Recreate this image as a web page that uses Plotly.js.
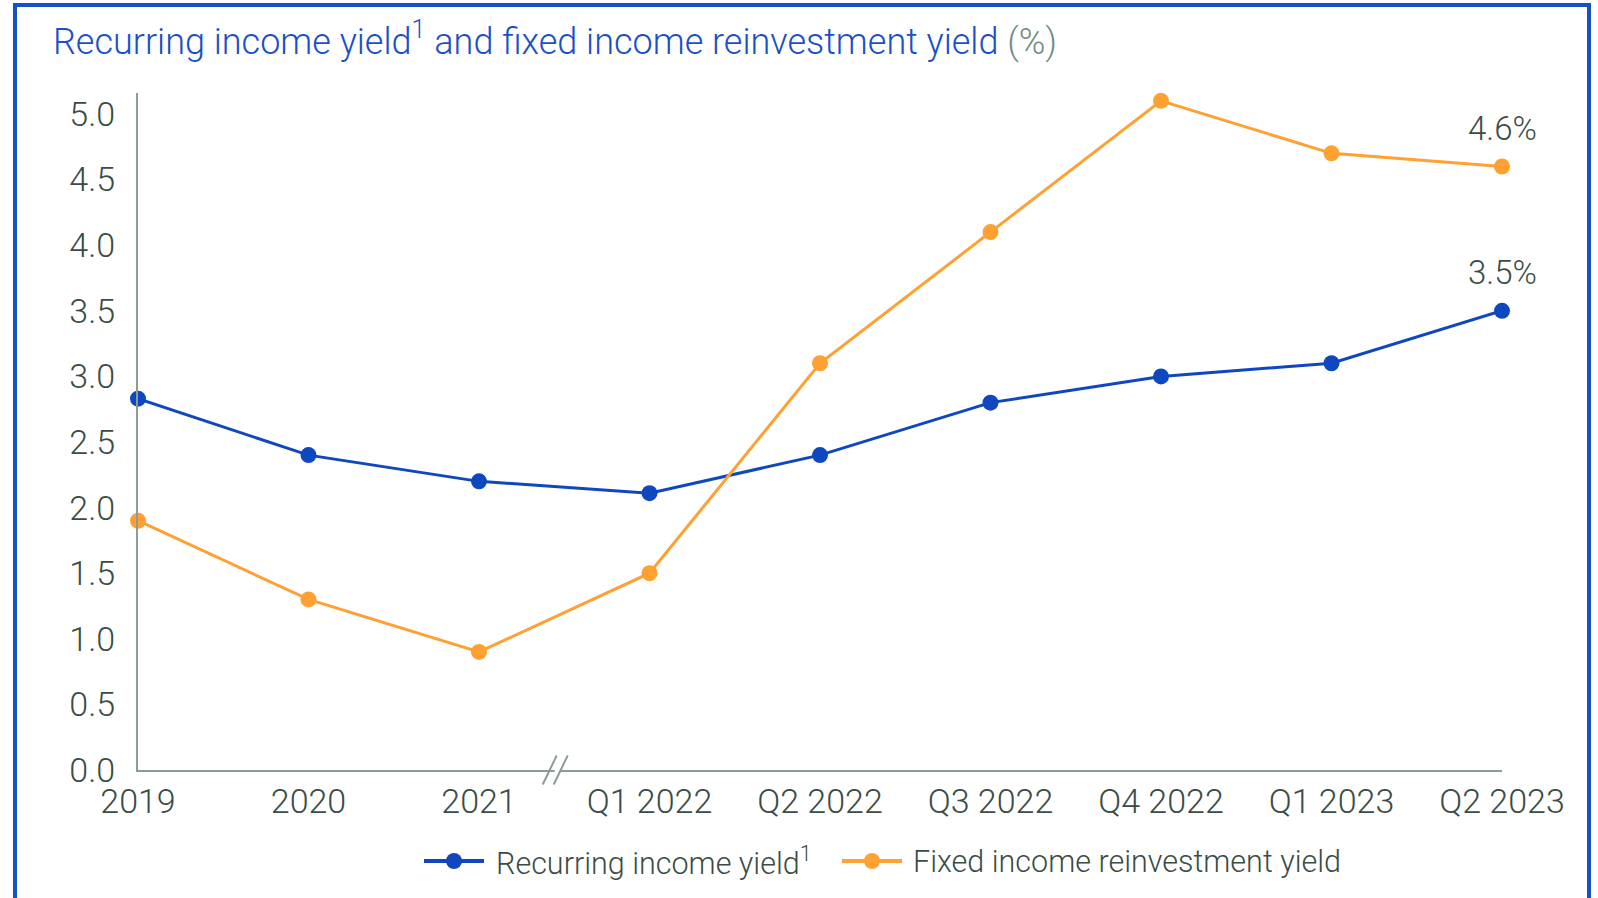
<!DOCTYPE html>
<html>
<head>
<meta charset="utf-8">
<script src="https://cdn.plot.ly/plotly-3.0.1.min.js"></script>
<style>
  html, body { margin:0; padding:0; background:#fff; overflow:hidden; }
  #frame { position:absolute; left:13px; top:3px; width:1570px; height:1000px; border:4px solid #1750c4; pointer-events:none; }
  #chart { position:absolute; left:0; top:0; width:1598px; height:898px; }
</style>
</head>
<body>
<div id="chart"></div>
<div id="frame"></div>
<script>
// ---- data ----
const categories = ["2019", "2020", "2021", "Q1 2022", "Q2 2022", "Q3 2022", "Q4 2022", "Q1 2023", "Q2 2023"];
const recurringIncomeYield = [2.83, 2.4, 2.2, 2.11, 2.4, 2.8, 3.0, 3.1, 3.5];
const fixedIncomeReinvestmentYield = [1.9, 1.3, 0.9, 1.5, 3.1, 4.1, 5.1, 4.7, 4.6];
const yTickValues = [0, 0.5, 1, 1.5, 2, 2.5, 3, 3.5, 4, 4.5, 5];
const yTickLabels = ["0.0", "0.5", "1.0", "1.5", "2.0", "2.5", "3.0", "3.5", "4.0", "4.5", "5.0"];
const seriesNames = ["Recurring income yield<sup>1</sup>", "Fixed income reinvestment yield"];
const titleMain = "Recurring income yield<sup>1</sup> and fixed income reinvestment yield";
const titleUnit = "(%)";
const axisBreakAfter = 2.45; // category index where the axis break sits

// ---- styles ----
const BLUE = "#0f47bf";
const ORANGE = "#ffa033";
const TEXT = "#3a4c45";
const AXIS = "#8a9c95";
const FONT = "Roboto, 'Liberation Sans', Arial, sans-serif";

const W = 1598, H = 898;
const M = { l: 138, r: 96, t: 93, b: 128 };
const PW = W - M.l - M.r, PH = H - M.t - M.b;
const px2x = px => (px - M.l) / PW;
const px2y = py => (H - M.b - py) / PH;

const traces = [
  {
    x: categories, y: recurringIncomeYield, type: "scatter", mode: "lines+markers",
    name: seriesNames[0], line: { color: BLUE, width: 3 },
    marker: { color: BLUE, size: 16 }, cliponaxis: false, showlegend: false
  },
  {
    x: categories, y: fixedIncomeReinvestmentYield, type: "scatter", mode: "lines+markers",
    name: seriesNames[1], line: { color: ORANGE, width: 3 },
    marker: { color: ORANGE, size: 16 }, cliponaxis: false, showlegend: false
  }
];

const last = categories.length - 1;
const annotations = [
  { x: categories[last], y: fixedIncomeReinvestmentYield[last], text: fixedIncomeReinvestmentYield[last].toFixed(1) + "%",
    showarrow: false, yshift: 38, font: { family: FONT, size: 33, color: TEXT, weight: 300 } },
  { x: categories[last], y: recurringIncomeYield[last], text: recurringIncomeYield[last].toFixed(1) + "%",
    showarrow: false, yshift: 38, font: { family: FONT, size: 33, color: TEXT, weight: 300 } }
];

// custom legend
const legendY = px2y(861);
const legendItems = [
  { color: BLUE, x0: 424, x1: 484, tx: 494, text: seriesNames[0] },
  { color: ORANGE, x0: 842, x1: 902, tx: 911, text: seriesNames[1] }
];
const shapes = [];
legendItems.forEach(it => {
  shapes.push({ type: "line", xref: "paper", yref: "paper", x0: px2x(it.x0), x1: px2x(it.x1), y0: legendY, y1: legendY,
    line: { color: it.color, width: 4 } });
  const cx = px2x((it.x0 + it.x1) / 2);
  shapes.push({ type: "circle", xref: "paper", yref: "paper", xsizemode: "pixel", ysizemode: "pixel",
    xanchor: cx, yanchor: legendY, x0: -8, x1: 8, y0: -8, y1: 8, fillcolor: it.color, line: { width: 0 } });
  annotations.push({ xref: "paper", yref: "paper", x: px2x(it.tx), y: legendY, xanchor: "left", yanchor: "middle",
    text: it.text, showarrow: false, font: { family: FONT, size: 30.5, color: TEXT, weight: 300 } });
});

// axis break marks (paper coords so they are not clipped to the plot area)
const breakX = axisBreakAfter / last;
shapes.push({ type: "line", xref: "paper", yref: "paper", xsizemode: "pixel", ysizemode: "pixel",
  xanchor: breakX, yanchor: 0, x0: -1, x1: 5, y0: 0, y1: 0, line: { color: "#ffffff", width: 4 } });
[-6, 5].forEach(off => {
  shapes.push({ type: "line", xref: "paper", yref: "paper", xsizemode: "pixel", ysizemode: "pixel",
    xanchor: breakX, yanchor: 0, x0: off - 7, x1: off + 7, y0: -14.5, y1: 14.5,
    line: { color: AXIS, width: 2 } });
});

const layout = {
  width: W, height: H,
  margin: M,
  paper_bgcolor: "#ffffff", plot_bgcolor: "#ffffff",
  title: {
    text: titleMain + " <span style='color:#6f8d84'>" + titleUnit + "</span>",
    x: 53 / W, xanchor: "left", xref: "container",
    y: 1 - 41 / H, yanchor: "middle", yref: "container",
    font: { family: FONT, size: 36, color: "#1a4fc7", weight: 300 }
  },
  xaxis: {
    type: "category", range: [0, last], showgrid: false, zeroline: false,
    showline: true, linecolor: AXIS, linewidth: 2,
    ticks: "", ticklabelstandoff: 0,
    tickfont: { family: FONT, size: 34, color: TEXT, weight: 300 },
    fixedrange: true
  },
  yaxis: {
    range: [0, 5.16], showgrid: false, zeroline: false,
    showline: true, linecolor: AXIS, linewidth: 2,
    tickvals: yTickValues, ticktext: yTickLabels,
    ticks: "", ticklabelstandoff: 14,
    tickfont: { family: FONT, size: 34, color: TEXT, weight: 300 },
    fixedrange: true
  },
  showlegend: false,
  annotations: annotations,
  shapes: shapes
};

Plotly.newPlot("chart", traces, layout, { displayModeBar: false, staticPlot: true });
</script>
</body>
</html>
